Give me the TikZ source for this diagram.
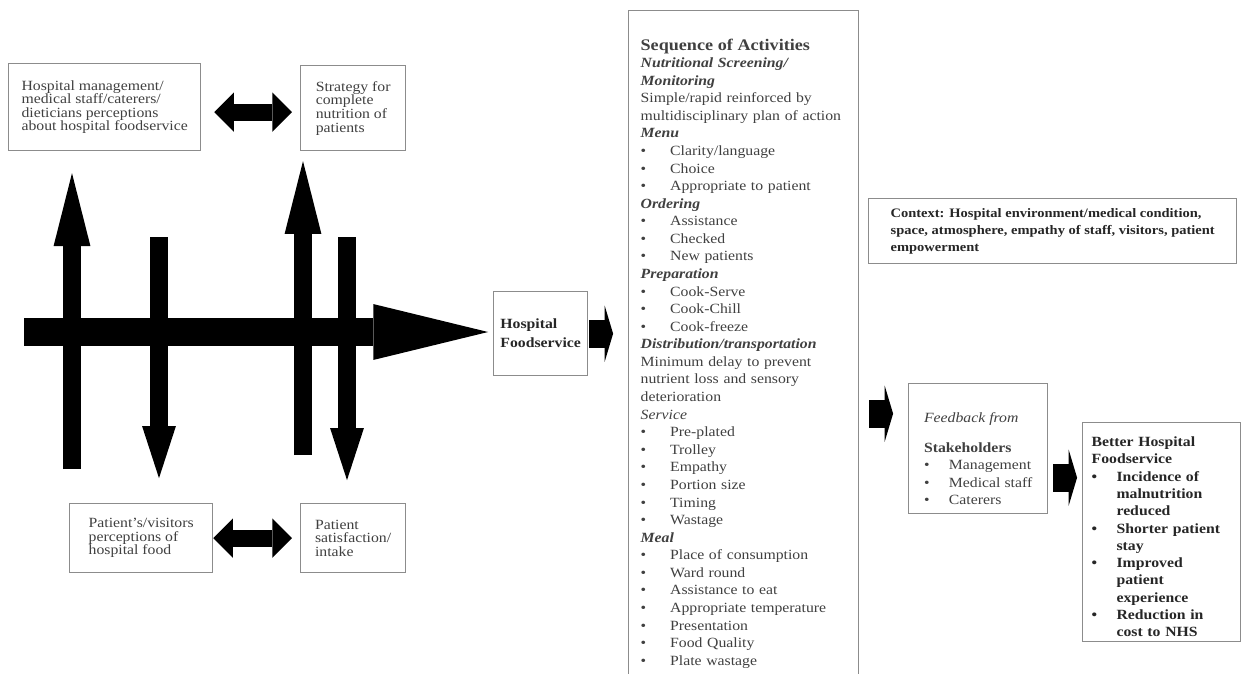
\documentclass[tikz,border=0pt]{standalone}
\usepackage{fontspec}
\setmainfont{Liberation Serif}[FakeStretch=1.12]
\usetikzlibrary{arrows.meta,calc}
\newcommand{\listbullet}[1][21pt]{\makebox[#1][l]{\textbullet}}

\begin{document}
\begin{tikzpicture}[x=0.025cm,y=-0.025cm,
  box/.style={rectangle,draw=black!45,line width=0.9pt,fill=white,text=black!75,align=left,anchor=north west,inner sep=0pt},
  smallbox/.style={box,font=\fontsize{10}{9.7}\selectfont},
  bigarrow/.style={line width=19.9pt,-{Triangle[width=39.7pt 0 0,length=81.5pt 0 0,line width=0pt 0 0]}},
  uparrow/.style={line width=13.5pt,-{Triangle[width=26.2pt 0 0,length=51.8pt 0 0,line width=0pt 0 0]}},
  downarrow/.style={line width=12.8pt,-{Triangle[width=24pt 0 0,length=36.9pt 0 0,line width=0pt 0 0]}},
  dblarrow/.style={line width=12pt,{Triangle[width=28pt 0 0,length=14pt 0 0,line width=0pt 0 0]}-{Triangle[width=28pt 0 0,length=14pt 0 0,line width=0pt 0 0]}},
  stubarrow/.style={line width=20pt,-{Triangle[width=40pt 0 0,length=6pt 0 0,line width=0pt 0 0]}},
]
\useasboundingbox (0,0) rectangle (1241,673);

% Perception boxes round the main flow
\node[smallbox,minimum width=4.8cm,minimum height=2.175cm] (mgmt) at (8,63) {Hospital management/\\medical staff/caterers/\\dieticians perceptions\\about hospital foodservice};
\node[smallbox,minimum width=2.625cm,minimum height=2.125cm] (strategy) at (300,65) {Strategy for\\complete\\nutrition of\\patients};
\node[smallbox,minimum width=3.575cm,minimum height=1.725cm] (visitors) at (69,503) {Patient's/visitors\\perceptions of\\hospital food};
\node[smallbox,minimum width=2.625cm,minimum height=1.725cm] (intake) at (300,503) {Patient\\satisfaction/\\intake};

% Central: Foodservice
\node[box,font=\bfseries\fontsize{10}{13.5}\selectfont,text=black!85,minimum width=2.35cm,minimum height=2.1cm] (foodservice) at (493,291) {Hospital\\Foodservice};

% Sequence of activities
\node[box,font=\fontsize{10}{12.5}\selectfont,text width=5.15cm,inner xsep=0.3cm,inner ysep=3pt] (activities) at (628,10) {\rule{0pt}{25pt}{\fontsize{11.5}{12.5}\selectfont\bfseries Sequence of Activities}\\
\textbf{\textit{Nutritional Screening/}}\\
\textbf{\textit{Monitoring}}\\
Simple/rapid reinforced by\\
multidisciplinary plan of action\\
\textbf{\textit{Menu}}\\
\listbullet Clarity/language\\
\listbullet Choice\\
\listbullet Appropriate to patient\\
\textbf{\textit{Ordering}}\\
\listbullet Assistance\\
\listbullet Checked\\
\listbullet New patients\\
\textbf{\textit{Preparation}}\\
\listbullet Cook-Serve\\
\listbullet Cook-Chill\\
\listbullet Cook-freeze\\
\textbf{\textit{Distribution/transportation}}\\
Minimum delay to prevent\\
nutrient loss and sensory\\
deterioration\\
\textit{Service}\\
\listbullet Pre-plated\\
\listbullet Trolley\\
\listbullet Empathy\\
\listbullet Portion size\\
\listbullet Timing\\
\listbullet Wastage\\
\textbf{\textit{Meal}}\\
\listbullet Place of consumption\\
\listbullet Ward round\\
\listbullet Assistance to eat\\
\listbullet Appropriate temperature\\
\listbullet Presentation\\
\listbullet Food Quality\\
\listbullet Plate wastage\\[40pt]\mbox{}};

% Context, feedback and outcome
\node[box,font=\bfseries\fontsize{9.2}{12}\selectfont,text=black!85,minimum width=9.2cm,minimum height=1.625cm] (context) at (868,198) {Context: Hospital environment/medical condition,\\space, atmosphere, empathy of staff, visitors, patient\\empowerment};
\node[box,font=\fontsize{10}{12.4}\selectfont,minimum width=3.475cm,minimum height=3.25cm] (feedback) at (908,383) {\rule{0pt}{21pt}\textit{Feedback from}\\[9pt]\textbf{Stakeholders}\\\listbullet[17.7pt]Management\\\listbullet[17.7pt]Medical staff\\\listbullet[17.7pt]Caterers};
\node[box,font=\bfseries\fontsize{10}{12.3}\selectfont,text=black!85,text width=3.5cm,inner xsep=0.225cm,inner ysep=3pt] (better) at (1082,422) {\rule{0pt}{14pt}Better Hospital\\Foodservice\\
\listbullet[17.7pt]Incidence of\\\hspace*{17.7pt}malnutrition\\\hspace*{17.7pt}reduced\\
\listbullet[17.7pt]Shorter patient\\\hspace*{17.7pt}stay\\
\listbullet[17.7pt]Improved\\\hspace*{17.7pt}patient\\\hspace*{17.7pt}experience\\
\listbullet[17.7pt]Reduction in\\\hspace*{17.7pt}cost to NHS};

% Main flow and cross arrows
\coordinate (flowstart) at (24,332);
\draw[bigarrow,shorten >=3.5pt] (flowstart) -- (flowstart -| foodservice.west);
\coordinate (upA) at (72,469);
\coordinate (upB) at (303,455);
\coordinate (downA) at (159,237);
\coordinate (downB) at (347,237);
\draw[uparrow,shorten >=15.6pt] (upA) -- (upA |- mgmt.south);
\draw[uparrow,shorten >=7pt] (upB) -- (upB |- strategy.south);
\draw[downarrow,shorten >=17.7pt] (downA) -- (downA |- visitors.north);
\draw[downarrow,shorten >=16.3pt] (downB) -- (downB |- intake.north);

% Two-way links
\coordinate (toplink) at ([yshift=-0.125cm]mgmt.east);
\draw[dblarrow,shorten <=9.2pt,shorten >=5.7pt] (toplink) -- (toplink -| strategy.west);
\draw[dblarrow,shorten >=5.7pt] (visitors.east) -- (visitors.east -| intake.west);

% Short block arrows
\draw[stubarrow,shorten <=0.7pt,shorten >=10.6pt] (foodservice.east) -- (foodservice.east -| activities.west);
\coordinate (fbin) at ([yshift=0.875cm]feedback.west);
\draw[stubarrow,shorten <=7pt,shorten >=10.6pt] (fbin -| activities.east) -- (fbin);
\coordinate (fbout) at ([yshift=-0.725cm]feedback.east);
\draw[stubarrow,shorten <=3.5pt,shorten >=3.5pt] (fbout) -- (fbout -| better.west);

\end{tikzpicture}
\end{document}
